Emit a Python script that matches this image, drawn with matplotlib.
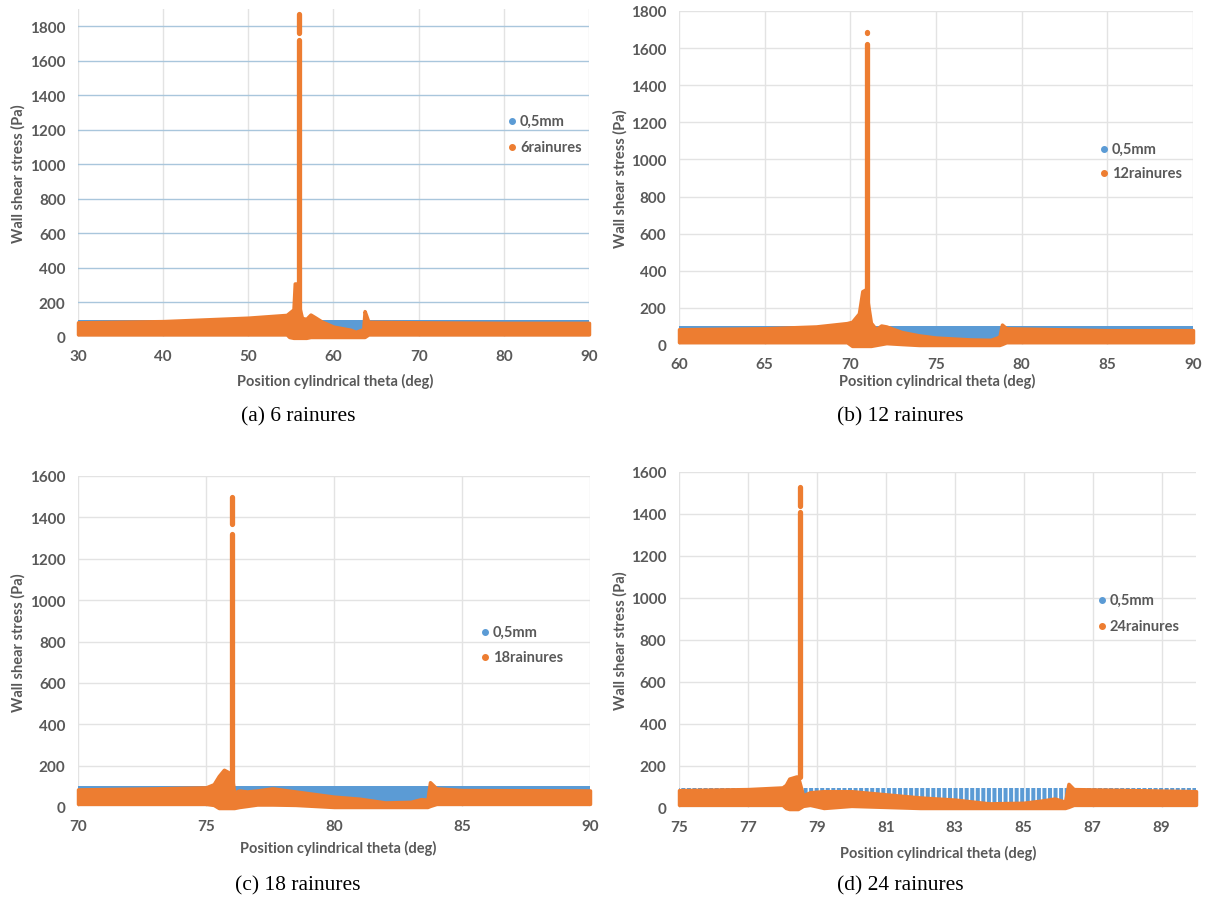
import matplotlib
matplotlib.use("Agg")
import matplotlib.pyplot as plt
from matplotlib.lines import Line2D

# ---------------- data ----------------
# (a) 6 rainures
a_blue_x = [30, 90]
a_blue_hi = [100, 100]
a_blue_lo = [20, 20]
a_x = [30, 40, 50, 54.5, 54.8, 55.3, 55.45, 55.7, 55.85, 56.3, 56.8, 57.3, 57.9, 58.6, 60, 62, 62.6, 63.5, 63.65, 63.8, 64.1, 70, 80, 90]
a_hi = [85, 92, 112, 128, 140, 160, 310, 310, 200, 110, 105, 130, 112, 90, 60, 42, 30, 45, 150, 130, 88, 85, 82, 82]
a_lo = [15, 15, 15, 15, 0, -5, -5, -5, -5, -5, -5, 0, 0, 0, 0, 0, 0, 0, 0, 5, 15, 15, 15, 15]
a_spike = [(55.9, 100, 1720), (55.9, 1760, 1870)]

# (b) 12 rainures
b_blue_x = [60, 90]
b_blue_hi = [100, 100]
b_blue_lo = [22, 22]
b_x = [60, 65, 68, 69.8, 70.1, 70.5, 70.7, 70.9, 71.2, 71.5, 71.8, 72.1, 73, 74, 75, 77, 78.2, 78.7, 78.85, 79.1, 85, 90]
b_hi = [85, 90, 100, 118, 125, 170, 290, 300, 120, 85, 105, 100, 70, 52, 40, 30, 28, 45, 110, 90, 80, 80]
b_lo = [15, 15, 15, 15, -5, -5, -5, -5, -5, 0, 5, 10, 5, 0, 0, 0, 0, 0, 5, 15, 15, 15]
b_spike = [(71.0, 120, 1620), (71.0, 1680, 1685)]

# (c) 18 rainures
c_blue_x = [70, 90]
c_blue_hi = [100, 100]
c_blue_lo = [20, 20]
c_x = [70, 73, 75, 75.3, 75.5, 75.7, 75.85, 76.0, 76.1, 76.3, 76.6, 77, 77.6, 78.5, 80, 81, 82, 83, 83.4, 83.65, 83.75, 84.0, 85, 90]
c_hi = [85, 90, 95, 110, 150, 180, 170, 160, 70, 80, 75, 80, 90, 75, 50, 40, 22, 25, 38, 35, 120, 90, 82, 80]
c_lo = [15, 15, 15, 10, -5, -5, -5, -5, -5, 0, 5, 12, 12, 10, 0, 0, 0, 0, 0, 0, 5, 15, 15, 15]
c_spike = [(76.0, 100, 1320), (76.0, 1370, 1500)]

# (d) 24 rainures
d_blue_x = [75, 90]
d_blue_hi = [97, 97]
d_blue_lo = [20, 20]
d_x = [75, 77, 78, 78.1, 78.2, 78.4, 78.45, 78.6, 78.8, 79.2, 80, 81, 82, 83, 84, 85, 85.5, 85.9, 86.2, 86.3, 86.45, 90]
d_hi = [85, 90, 98, 110, 140, 150, 150, 60, 75, 80, 80, 65, 50, 40, 22, 25, 35, 45, 30, 115, 90, 80]
d_lo = [15, 15, 15, 0, -5, -5, -5, 10, 15, 0, 10, 5, 0, 0, 0, 0, 0, 0, 0, 5, 15, 15]
d_spike = [(78.5, 150, 1410), (78.5, 1440, 1530)]

series_blue_name = "0,5mm"
series_names = ["6rainures", "12rainures", "18rainures", "24rainures"]
captions = ["(a) 6 rainures", "(b) 12 rainures", "(c) 18 rainures", "(d) 24 rainures"]
xticks = [list(range(30, 91, 10)), list(range(60, 91, 5)), list(range(70, 91, 5)), list(range(75, 90, 2))]
xlims = [(30, 90), (60, 90), (70, 90), (75, 90)]
yticks = [list(range(0, 1801, 200)), list(range(0, 1801, 200)), list(range(0, 1601, 200)), list(range(0, 1601, 200))]
ylims = [(0, 1900), (0, 1800), (0, 1600), (0, 1600)]

# ---------------- style ----------------
W, H = 1209, 904
BLUE = "#5B9BD5"
ORANGE = "#ED7D31"
GRAY = "#595959"
FONT = "Lato"
plt.rcParams["hatch.linewidth"] = 1.1

fig = plt.figure(figsize=(W / 100, H / 100), dpi=100)

def px_axes(l, r, t, b):
    return [l / W, 1 - b / H, (r - l) / W, (b - t) / H]

boxes = [px_axes(78, 589, 10, 338), px_axes(679, 1193, 12, 346),
         px_axes(78, 590, 477, 808), px_axes(679, 1196, 473, 809)]
blues = [(a_blue_x, a_blue_hi, a_blue_lo), (b_blue_x, b_blue_hi, b_blue_lo),
         (c_blue_x, c_blue_hi, c_blue_lo), (d_blue_x, d_blue_hi, d_blue_lo)]
oranges = [(a_x, a_hi, a_lo), (b_x, b_hi, b_lo), (c_x, c_hi, c_lo), (d_x, d_hi, d_lo)]
spikes = [a_spike, b_spike, c_spike, d_spike]
hatches = [None, None, None, "|||"]
legend_pos = [(512, 122, 26), (1104, 150, 24), (485, 633, 25), (1102, 601, 26)]
caption_pos = [(298, 417), (900, 417), (298, 886), (900, 886)]
xlabel_pos = [(335, 381), (937, 381), (338, 848), (938, 853)]
ylabel_x = [18, 620, 18, 620]

for i in range(4):
    ax = fig.add_axes(boxes[i])
    ax.set_xlim(*xlims[i])
    ax.set_ylim(*ylims[i])
    ax.set_xticks(xticks[i])
    ax.set_yticks(yticks[i])
    for s in ax.spines.values():
        s.set_visible(False)
    ax.tick_params(length=0, labelsize=11, labelcolor=GRAY, pad=9)
    for lab in ax.get_xticklabels() + ax.get_yticklabels():
        lab.set_fontfamily(FONT)
        lab.set_fontweight("bold")
    hcol = "#A9C6DC" if i == 0 else "#E3E3E3"
    ax.grid(axis="y", color=hcol, lw=1.0, zorder=0)
    ax.grid(axis="x", color="#E3E3E3", lw=1.0, zorder=0)
    ax.set_axisbelow(True)

    bx, bhi, blo = blues[i]
    if hatches[i] is None:
        ax.fill_between(bx, blo, bhi, color=BLUE, lw=0, zorder=2)
    else:
        ax.fill_between(bx, blo, bhi, facecolor=BLUE, edgecolor="white",
                        hatch=hatches[i], lw=0, zorder=2)
    ox, ohi, olo = oranges[i]
    ax.fill_between(ox, olo, ohi, facecolor=ORANGE, edgecolor=ORANGE, lw=2.5,
                    joinstyle="round", zorder=3, clip_on=False)
    sx = [s[0] for s in spikes[i]]
    s0 = [s[1] for s in spikes[i]]
    s1 = [s[2] for s in spikes[i]]
    ax.vlines(sx, s0, s1, colors=ORANGE, lw=3.8, capstyle="round", zorder=4)

    # legend
    mx, my, dy = legend_pos[i]
    for k, (name, col) in enumerate([(series_blue_name, BLUE), (series_names[i], ORANGE)]):
        yy = my + k * dy
        fig.add_artist(Line2D([mx / W], [1 - yy / H], marker="o", ms=4, color=col,
                              ls="", transform=fig.transFigure))
        fig.text((mx + 8) / W, 1 - yy / H, name, fontsize=10.5, fontweight="bold",
                 color=GRAY, family=FONT, ha="left", va="center")

    # axis labels
    fig.text(xlabel_pos[i][0] / W, 1 - xlabel_pos[i][1] / H, "Position cylindrical theta (deg)",
             fontsize=10.5, fontweight="bold", color=GRAY, family=FONT, ha="center", va="center")
    ytop = (1 - boxes[i][1] - boxes[i][3]) * H
    ybot = (1 - boxes[i][1]) * H
    fig.text(ylabel_x[i] / W, 1 - ((ytop + ybot) / 2) / H, "Wall shear stress (Pa)",
             fontsize=10.5, fontweight="bold", color=GRAY, family=FONT, ha="center",
             va="center", rotation=90)
    # caption
    fig.text(caption_pos[i][0] / W, 1 - caption_pos[i][1] / H, captions[i],
             fontsize=15.5, family="Liberation Serif", color="black", ha="center", va="center")

fig.savefig("out.png", dpi=100)
